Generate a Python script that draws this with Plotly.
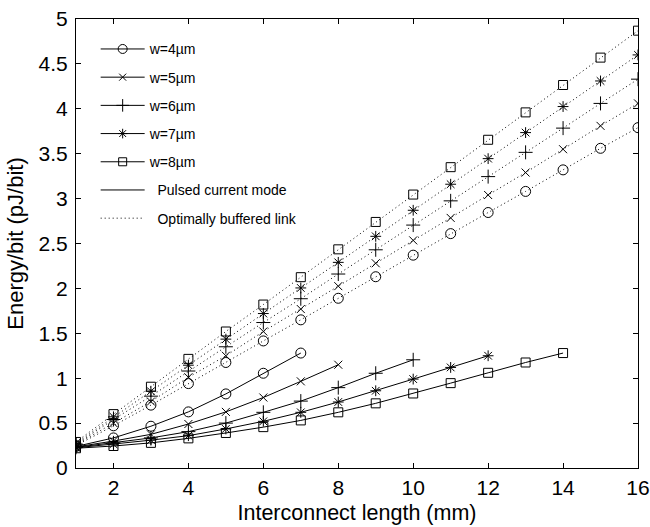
import plotly.graph_objects as go

widths = ["w=4\u00b5m", "w=5\u00b5m", "w=6\u00b5m", "w=7\u00b5m", "w=8\u00b5m"]
symbols = ["circle-open", "x-thin-open", "cross-thin-open", "asterisk-open", "square-open"]
sizes = [10, 8, 10, 9, 9]

# Pulsed current mode (solid)
pulsed_x = [
    [1, 2, 3, 4, 5, 6, 7],
    [1, 2, 3, 4, 5, 6, 7, 8],
    [1, 2, 3, 4, 5, 6, 7, 8, 9, 10],
    [1, 2, 3, 4, 5, 6, 7, 8, 9, 10, 11, 12],
    [1, 2, 3, 4, 5, 6, 7, 8, 9, 10, 11, 12, 13, 14],
]
pulsed_y = [
    [0.24, 0.335, 0.465, 0.625, 0.825, 1.055, 1.28],
    [0.235, 0.30, 0.375, 0.49, 0.625, 0.785, 0.965, 1.15],
    [0.23, 0.28, 0.335, 0.405, 0.50, 0.62, 0.745, 0.895, 1.055, 1.205],
    [0.225, 0.265, 0.31, 0.36, 0.435, 0.52, 0.62, 0.735, 0.86, 0.99, 1.12, 1.25],
    [0.22, 0.245, 0.28, 0.33, 0.39, 0.455, 0.53, 0.62, 0.72, 0.83, 0.945, 1.06, 1.175, 1.28],
]

# Optimally buffered link (dotted)
buffered_x = list(range(1, 17))
buffered_y = [
    [0.25, 0.47, 0.70, 0.94, 1.175, 1.415, 1.65, 1.89, 2.13, 2.37, 2.61, 2.845, 3.08, 3.32, 3.56, 3.79],
    [0.26, 0.50, 0.74, 1.01, 1.25, 1.52, 1.77, 2.025, 2.28, 2.535, 2.785, 3.04, 3.29, 3.55, 3.81, 4.06],
    [0.265, 0.54, 0.80, 1.08, 1.35, 1.62, 1.885, 2.16, 2.43, 2.705, 2.975, 3.245, 3.515, 3.785, 4.06, 4.33],
    [0.275, 0.57, 0.855, 1.145, 1.435, 1.72, 2.005, 2.29, 2.58, 2.87, 3.16, 3.445, 3.735, 4.025, 4.31, 4.60],
    [0.29, 0.60, 0.905, 1.215, 1.52, 1.82, 2.125, 2.435, 2.74, 3.045, 3.35, 3.655, 3.96, 4.265, 4.57, 4.87],
]

x_ticks = [2, 4, 6, 8, 10, 12, 14, 16]
y_ticks = [0, 0.5, 1, 1.5, 2, 2.5, 3, 3.5, 4, 4.5, 5]

DOT = "1px,3px"

fig = go.Figure()

for i in range(5):
    fig.add_trace(go.Scatter(
        x=buffered_x, y=buffered_y[i], mode="lines+markers",
        line=dict(color="black", width=1, dash=DOT),
        marker=dict(symbol=symbols[i], size=sizes[i], color="black",
                    line=dict(color="black", width=1)),
        showlegend=False))
    fig.add_trace(go.Scatter(
        x=pulsed_x[i], y=pulsed_y[i], mode="lines+markers",
        line=dict(color="black", width=1),
        marker=dict(symbol=symbols[i], size=sizes[i], color="black",
                    line=dict(color="black", width=1)),
        showlegend=False))

# legend entries
for i in range(5):
    fig.add_trace(go.Scatter(
        x=[None], y=[None], mode="lines+markers", name=widths[i],
        legendgroup="g%d" % i,
        line=dict(color="black", width=1),
        marker=dict(symbol=symbols[i], size=sizes[i] - 1, color="black",
                    line=dict(color="black", width=1))))
fig.add_trace(go.Scatter(x=[None], y=[None], mode="lines", name="  Pulsed current mode",
                         legendgroup="g5", line=dict(color="black", width=1)))
fig.add_trace(go.Scatter(x=[None], y=[None], mode="lines", name="  Optimally buffered link",
                         legendgroup="g6", line=dict(color="black", width=1, dash=DOT)))

axis_common = dict(showgrid=False, zeroline=False, showline=True, linecolor="black",
                   linewidth=1, mirror="ticks", ticks="inside", ticklen=5,
                   tickcolor="black", tickfont=dict(size=21, color="black"),
                   automargin=False)

fig.update_layout(
    width=650, height=527,
    margin=dict(l=76, r=12, t=19, b=59),
    paper_bgcolor="white", plot_bgcolor="white",
    font=dict(family="Liberation Sans, Arial, sans-serif", color="black"),
    xaxis=dict(range=[1, 16], tickvals=x_ticks, ticklabelstandoff=1,
               title=dict(text="Interconnect length (mm)", font=dict(size=21.5), standoff=6),
               **axis_common),
    yaxis=dict(range=[0, 5], tickvals=y_ticks, ticklabelstandoff=3,
               title=dict(text="Energy/bit (pJ/bit)", font=dict(size=22), standoff=8),
               **axis_common),
    legend=dict(x=0.035, y=0.968, xanchor="left", yanchor="top",
                bgcolor="rgba(0,0,0,0)", font=dict(size=14, color="black"),
                traceorder="grouped", tracegroupgap=7, itemwidth=44),
)

fig.write_html("out.html")
